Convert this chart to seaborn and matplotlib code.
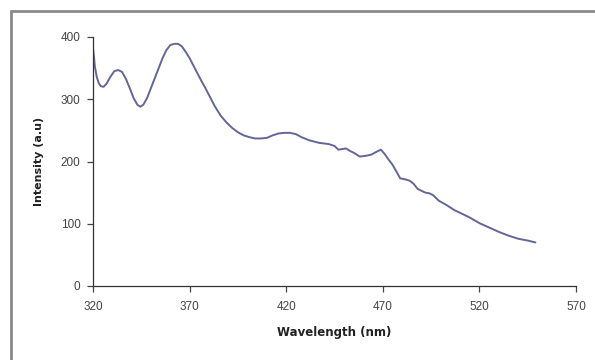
import matplotlib
matplotlib.use("Agg")
import matplotlib.pyplot as plt
import seaborn as sns
import pandas as pd
from matplotlib.lines import Line2D

wavelength = [320, 320.5, 321, 322, 323, 324, 325.5, 327, 329, 331,
              333, 335, 337, 339, 341, 343, 344.5, 346, 348, 350,
              352, 354, 356, 358, 360, 362, 364, 366, 368, 370,
              372, 374, 376, 378, 380, 383, 386, 389, 392, 395,
              398, 401, 404, 407, 410, 413, 416, 419, 422, 425,
              428, 432, 437, 442, 445, 447, 449, 451, 453, 455,
              458, 461, 464, 467, 469, 471, 473, 475, 477, 479,
              482, 484, 486, 488, 490, 492, 494, 496, 499, 503,
              507, 511, 515, 520, 525, 530, 535, 540, 545, 549]
intensity = [382, 368, 352, 335, 326, 321, 320, 325, 336, 345,
             347, 344, 333, 318, 302, 291, 288, 291, 302, 318,
             334, 350, 366, 379, 387, 389, 389, 385, 376, 366,
             354, 342, 330, 319, 307, 289, 274, 263, 254, 247,
             242, 239, 237, 237, 238, 242, 245, 246, 246, 244,
             239, 234, 230, 228, 225, 219, 220, 221, 217, 214,
             208, 209, 211, 216, 219, 212, 203, 195, 184, 173,
             171, 169, 164, 156, 153, 150, 149, 146, 137, 130,
             122, 116, 110, 101, 94, 87, 81, 76, 73, 70]
xticks = [320, 370, 420, 470, 520, 570]
yticks = [0, 100, 200, 300, 400]

df = pd.DataFrame({"Wavelength": wavelength, "Intensity": intensity})

sns.set_style("ticks")
plt.rcParams['font.family'] = ['Liberation Sans', 'DejaVu Sans']

fig = plt.figure(figsize=(5.95, 3.6), dpi=100)
ax = fig.add_axes([93/595, 1-286/360, (576-93)/595, (286-37)/360])
sns.lineplot(data=df, x="Wavelength", y="Intensity", ax=ax,
             color="#65659a", linewidth=1.4)

ax.set_xlim(320, 570)
ax.set_ylim(0, 400)
ax.set_xticks(xticks)
ax.set_yticks(yticks)
ax.tick_params(axis='both', labelsize=8.5, colors='#444444', length=4, width=0.9)
ax.tick_params(axis='x', pad=7)
ax.tick_params(axis='y', pad=5)
for s in ["top", "right"]:
    ax.spines[s].set_visible(False)
for s in ["left", "bottom"]:
    ax.spines[s].set_color("#333333")
    ax.spines[s].set_linewidth(0.9)

ax.set_xlabel("Wavelength (nm)", fontsize=8.5, fontweight='bold', color='#222222',
              labelpad=9, family=['DejaVu Sans'])
ax.set_ylabel("Intensity (a.u)", fontsize=8, fontweight='bold', color='#222222',
              labelpad=12, family=['DejaVu Sans'])

# outer frame (left and top edges)
fig.add_artist(Line2D([11/595, 11/595], [0, 1-11/360], transform=fig.transFigure,
                      color="#8a8a8a", linewidth=2))
fig.add_artist(Line2D([11/595, 1], [1-11/360, 1-11/360], transform=fig.transFigure,
                      color="#8a8a8a", linewidth=2))

fig.savefig("out.png", dpi=100)
